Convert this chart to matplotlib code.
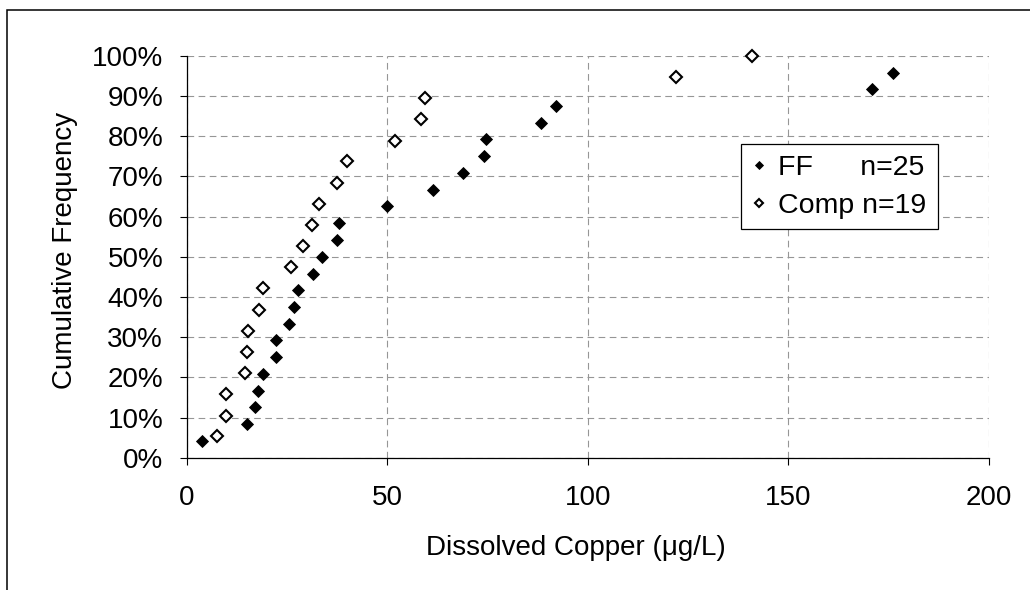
import matplotlib
matplotlib.use("Agg")
import matplotlib.pyplot as plt
from matplotlib.patches import Rectangle
from matplotlib.ticker import PercentFormatter

plt.rcParams["font.family"] = ["Liberation Sans", "DejaVu Sans"]

# FF samples (n=25, two fall beyond the axis range)
ff_copper = [3.7, 15.0, 16.9, 17.7, 19.1, 22.3, 22.3, 25.5, 26.8, 27.8, 31.4, 33.8,
             37.5, 38.0, 50.0, 61.5, 68.9, 74.1, 74.6, 88.4, 92.1, 170.9, 176.1]
ff_freq = [4.2, 8.3, 12.5, 16.7, 20.8, 25.0, 29.2, 33.3, 37.5, 41.7, 45.8, 50.0,
           54.2, 58.3, 62.5, 66.7, 70.8, 75.0, 79.2, 83.3, 87.5, 91.7, 95.8]

# Composite samples (n=19)
comp_copper = [7.5, 9.8, 9.8, 14.5, 15.0, 15.2, 18.1, 19.1, 25.9, 29.1, 31.2, 33.0,
               37.5, 39.9, 51.9, 58.4, 59.4, 122.1, 141.0]
comp_freq = [5.3, 10.5, 15.8, 21.1, 26.3, 31.6, 36.8, 42.1, 47.4, 52.6, 57.9, 63.2,
             68.4, 73.7, 78.9, 84.2, 89.5, 94.7, 100.0]

fig = plt.figure(figsize=(10.3, 5.9), dpi=100)
ax = fig.add_axes([0.1813, 0.2242, 0.7787, 0.6814])

ax.plot(ff_copper, ff_freq, ls="none", marker="D", ms=6.5, mfc="black",
        mec="black", mew=0.6, label="FF      n=25", clip_on=False, zorder=3)
ax.plot(comp_copper, comp_freq, ls="none", marker="D", ms=6.5, mfc="white",
        mec="black", mew=1.5, label="Comp n=19", clip_on=False, zorder=3)

ax.set_xlim(0, 200)
ax.set_ylim(0, 100)
ax.set_xticks([0, 50, 100, 150, 200])
ax.set_yticks(range(0, 101, 10))
ax.yaxis.set_major_formatter(PercentFormatter(decimals=0))
ax.grid(True, color="#969696", ls=(0, (6, 4)), lw=0.8)
ax.set_axisbelow(True)

for s in ("top", "right"):
    ax.spines[s].set_visible(False)
for s in ("left", "bottom"):
    ax.spines[s].set_linewidth(0.9)
ax.tick_params(direction="out", length=5, width=0.8, labelsize=20, color="black")
ax.tick_params(axis="x", pad=15)
ax.tick_params(axis="y", pad=12)

ax.set_xlabel("Dissolved Copper (\u03bcg/L)", fontsize=20)
ax.set_ylabel("Cumulative Frequency", fontsize=20, labelpad=10)
ax.xaxis.set_label_coords(0.485, -0.192)
ax.yaxis.get_label().set_y(0.515)

leg = ax.legend(loc="upper left", bbox_to_anchor=(0.719, 0.7554),
                bbox_transform=fig.transFigure, fontsize=20.5, frameon=True,
                fancybox=False, framealpha=1, edgecolor="black", markerscale=0.7,
                handlelength=0.55, handletextpad=0.4, borderpad=0.38,
                labelspacing=0.4, borderaxespad=0)
leg.get_frame().set_linewidth(0.9)

fig.patches.append(Rectangle((7 / 1030, -0.1), 1.2, 0.1 + 1 - 10 / 590,
                             transform=fig.transFigure, fill=False,
                             edgecolor="black", lw=1.1))

fig.savefig("out.png", dpi=100)
